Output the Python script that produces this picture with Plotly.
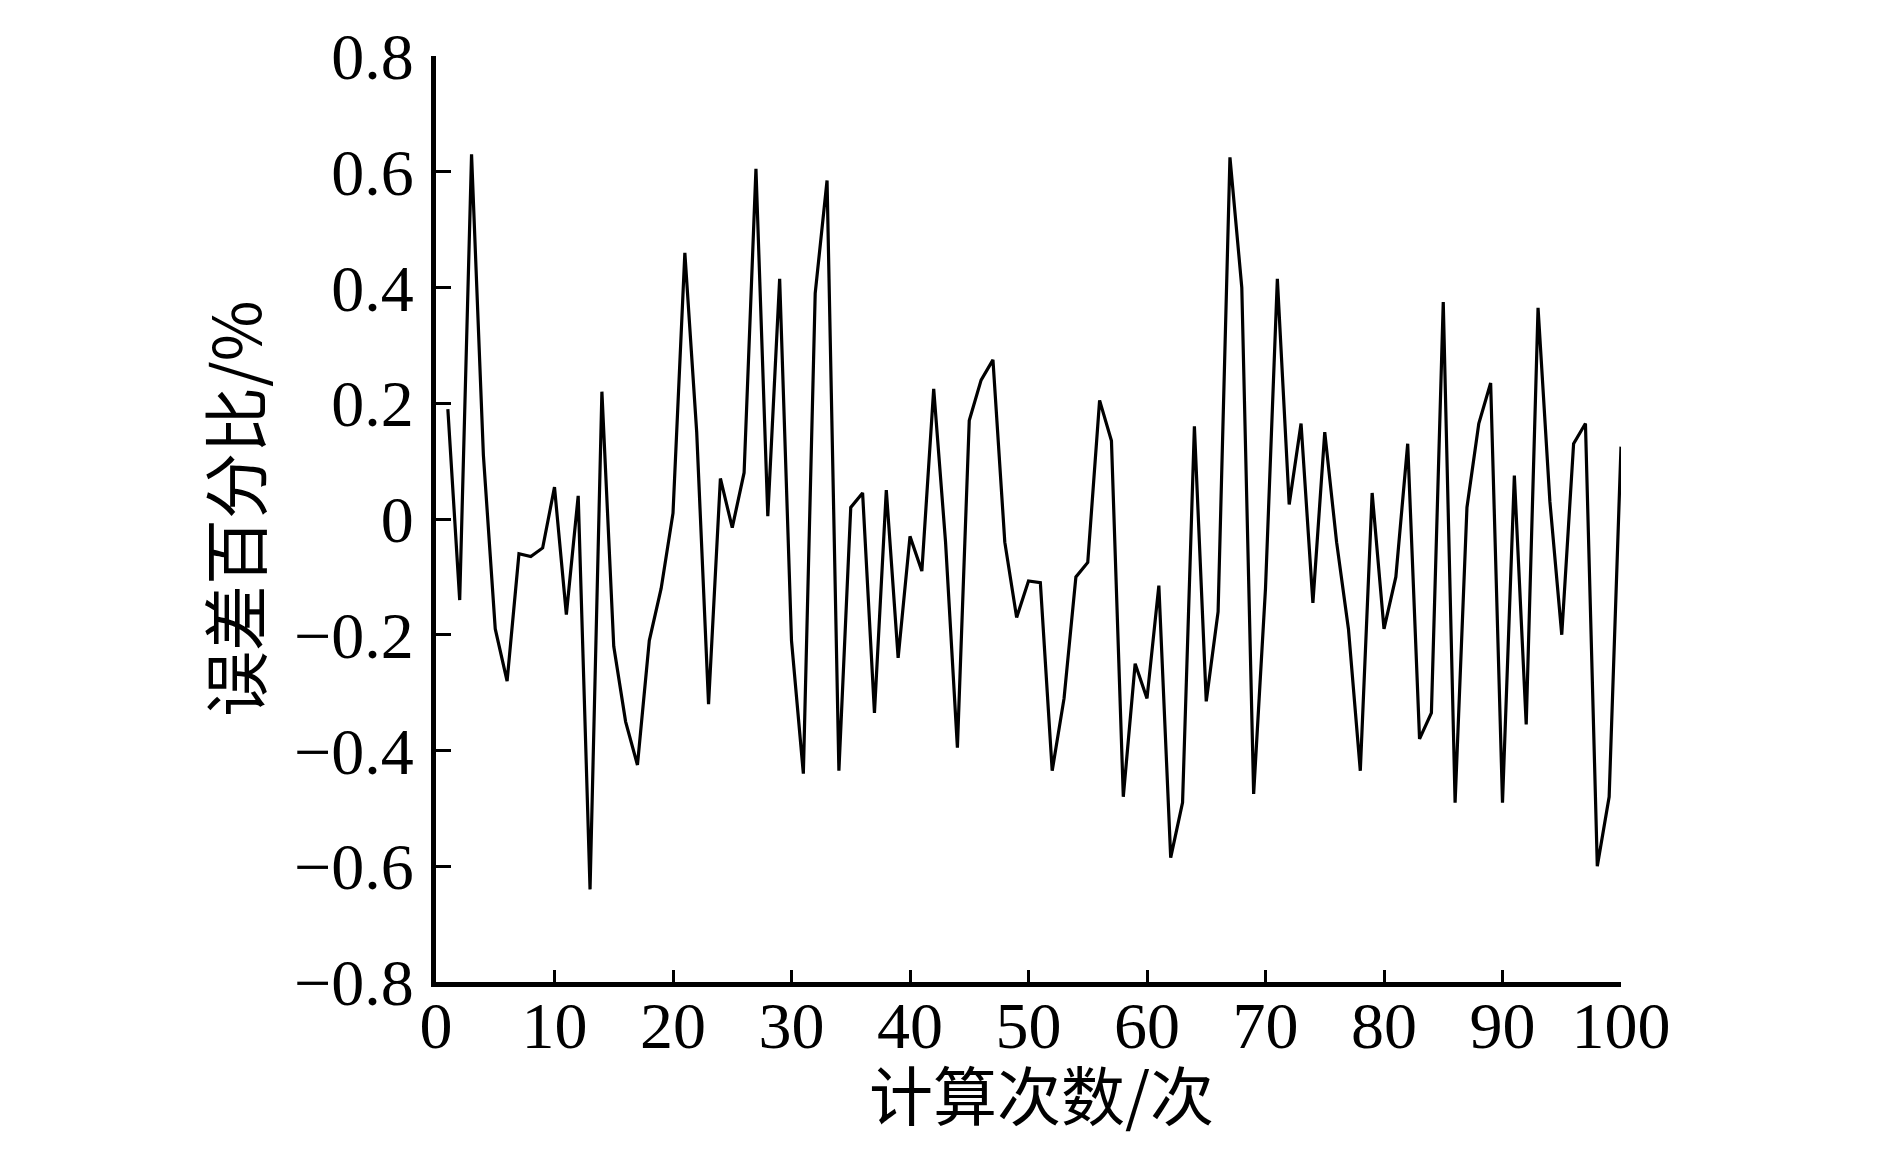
import plotly.graph_objects as go

# 计算次数 (1..100) 与误差百分比
runs = list(range(1, 101))
error_pct = [
    0.19, -0.14, 0.63, 0.11, -0.19, -0.28, -0.06, -0.065, -0.05, 0.055,
    -0.165, 0.04, -0.64, 0.22, -0.22, -0.35, -0.425, -0.21, -0.12, 0.01,
    0.46, 0.15, -0.32, 0.07, -0.015, 0.08, 0.605, 0.005, 0.415, -0.21,
    -0.44, 0.39, 0.585, -0.435, 0.02, 0.045, -0.335, 0.05, -0.24, -0.03,
    -0.09, 0.225, -0.04, -0.395, 0.17, 0.24, 0.275, -0.04, -0.17, -0.107,
    -0.11, -0.435, -0.31, -0.10, -0.075, 0.205, 0.135, -0.48, -0.25, -0.31,
    -0.115, -0.585, -0.49, 0.16, -0.315, -0.16, 0.625, 0.40, -0.475, -0.12,
    0.415, 0.025, 0.165, -0.145, 0.15, -0.04, -0.19, -0.435, 0.045, -0.19,
    -0.10, 0.13, -0.38, -0.335, 0.375, -0.49, 0.02, 0.165, 0.235, -0.49,
    0.075, -0.355, 0.365, 0.03, -0.2, 0.13, 0.165, -0.6, -0.48, 0.125,
]

x_ticks = [0, 10, 20, 30, 40, 50, 60, 70, 80, 90, 100]
y_ticks = [-0.8, -0.6, -0.4, -0.2, 0, 0.2, 0.4, 0.6, 0.8]
y_tick_text = ["−0.8", "−0.6", "−0.4", "−0.2", "0", "0.2", "0.4", "0.6", "0.8"]

x_title = "计算次数/次"
y_title = "误差百分比/%"

serif = "Liberation Serif, Times New Roman, Noto Sans CJK SC"
cjk = "Noto Sans CJK SC"

fig = go.Figure()

fig.add_trace(go.Scatter(
    x=runs,
    y=error_pct,
    mode="lines",
    line=dict(color="black", width=3.2),
    showlegend=False,
))

axis_style = dict(
    showline=True,
    linecolor="black",
    linewidth=5,
    ticks="inside",
    tickcolor="black",
    tickwidth=3,
    showgrid=False,
    zeroline=False,
    mirror=False,
    tickfont=dict(family=serif, size=66, color="black"),
)

fig.update_xaxes(
    range=[0, 100],
    tickvals=x_ticks,
    ticklen=12,
    ticklabelstandoff=-18,
    **axis_style,
)
fig.update_yaxes(
    range=[-0.8, 0.8],
    tickvals=y_ticks,
    ticktext=y_tick_text,
    ticklen=15,
    ticklabelstandoff=4,
    **axis_style,
)

# 轴标题用注释精确定位
fig.add_annotation(
    text=x_title, xref="paper", yref="paper", x=0.5, y=0,
    xanchor="center", yanchor="middle", xshift=13, yshift=-110,
    showarrow=False, font=dict(family=cjk, size=64, color="black"),
)
fig.add_annotation(
    text=y_title, xref="paper", yref="paper", x=0, y=0.5,
    xanchor="center", yanchor="middle", xshift=-204, yshift=10,
    textangle=-90, showarrow=False, font=dict(family=cjk, size=66, color="black"),
)

fig.update_layout(
    width=1890,
    height=1157,
    margin=dict(l=428, r=277, t=42, b=183),
    paper_bgcolor="white",
    plot_bgcolor="white",
)

fig.write_html("out.html")
